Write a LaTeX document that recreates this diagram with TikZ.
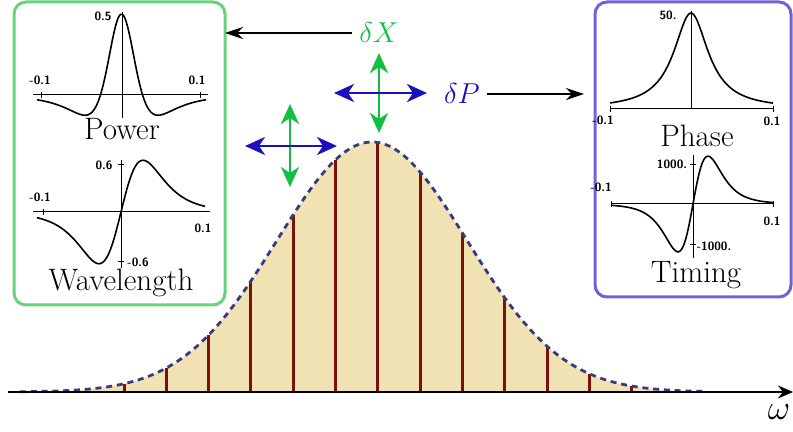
\documentclass[tikz,border=0pt]{standalone}
\usepackage{amsmath, amssymb}
\usetikzlibrary{arrows.meta, positioning, calc}

\definecolor{boxgreen}{HTML}{66D47E}
\definecolor{boxpurple}{HTML}{7262D6}
\definecolor{sandfill}{HTML}{F0E2B2}
\definecolor{curveblue}{HTML}{3A3A80}
\definecolor{combred}{HTML}{7A1010}
\definecolor{arrgreen}{HTML}{10C040}
\definecolor{arrblue}{HTML}{1A10C0}

\begin{document}
\begin{tikzpicture}[x=0.5pt, y=-0.5pt,
    declare function={pw(\t)=(1-3*\t*\t)/(1+\t*\t)^3; wl(\t)=\t/(1+\t*\t)^3;
      ph(\t)=1/(1+\t*\t); gs(\t)=exp(-\t*\t/2);},
    big_label/.style={font=\fontsize{15.5}{18}\selectfont},
    tick_label/.style={font=\fontsize{6}{7}\selectfont\sffamily\bfseries, inner sep=0pt},
    green_box/.style={draw=boxgreen, line width=1.5pt, rounded corners=6pt, inner sep=0pt, outer sep=0pt,
      minimum width=105.5pt, minimum height=151.5pt},
    purple_box/.style={draw=boxpurple, line width=1.5pt, rounded corners=6pt, inner sep=0pt, outer sep=0pt,
      minimum width=98pt, minimum height=147.5pt},
    plot_axis/.style={line width=0.5pt},
    plot_line/.style={line width=0.8pt},
    comb_line/.style={draw=combred, line width=1.5pt},
    env_line/.style={draw=curveblue, line width=1.4pt, dash pattern=on 3pt off 2.4pt},
    black_arrow/.style={-{Stealth[length=9pt, width=6pt]}, line width=1pt},
    move_x/.style={{Stealth[length=10pt, width=9pt, inset=3pt]}-{Stealth[length=10pt, width=9pt, inset=3pt]}, draw=arrgreen, line width=1.4pt},
    move_p/.style={{Stealth[length=10pt, width=9pt, inset=3pt]}-{Stealth[length=10pt, width=9pt, inset=3pt]}, draw=arrblue, line width=1.4pt},
    ]
    \useasboundingbox (0,0) rectangle (793,432);

    % Spectrum
    \fill[sandfill] plot[domain=20:705, samples=140] (\x, {392-250*gs((\x-372)/95)}) -- cycle;
    \foreach \k in {0,...,12} {
      \pgfmathsetmacro\cx{124+42.3*\k}
      \draw[comb_line] (\cx,392) -- (\cx,{392-250*gs((\cx-372)/95)});
    }
    \draw[env_line] plot[domain=20:705, samples=140] (\x, {392-250*gs((\x-372)/95)});
    \draw[-{Stealth[length=7.5pt, width=6.5pt]}, line width=1.2pt] (8,392) -- (793,392);
    \node[font=\fontsize{18}{20}\selectfont, inner sep=1pt] (omega) at (779,412) {$\omega$};

    % Boxes
    \node[green_box] (lbox) at (119.5,153.5) {};
    \node[purple_box] (rbox) at (693,149.5) {};

    % Power
    \draw[plot_axis] (33,95) -- (208,95) (122,12) -- (122,118)
      (41,92) -- (41,98) (200,92) -- (200,98);
    \draw[plot_line] plot[domain=37:206, samples=90, smooth] (\x, {95-81*pw((\x-121.5)/36.5)});
    \node[tick_label] (p1) at (103,16) {0.5};
    \node[tick_label] (p2) at (40,80) {-0.1};
    \node[tick_label] (p3) at (197,80) {0.1};
    \node[big_label, anchor=base] (power) at (122,140) {Power};

    % Wavelength
    \draw[plot_axis] (33,212) -- (210,212) (121,160) -- (121,268)
      (43,209) -- (43,215) (118,165) -- (124,165) (118,262) -- (124,262);
    \draw[plot_line] plot[domain=37:205, samples=90, smooth] (\x, {212-200*wl((\x-121)/49.2)});
    \node[tick_label] (w1) at (104,165) {0.6};
    \node[tick_label] (w2) at (40,197) {-0.1};
    \node[tick_label] (w3) at (203,228) {0.1};
    \node[tick_label] (w4) at (138,262) {-0.6};
    \node[big_label, anchor=base] (wavelength) at (121,291) {Wavelength};

    % Phase
    \draw[plot_axis] (610,109) -- (773,109) (691,11) -- (691,109)
      (610,106) -- (610,112) (773,106) -- (773,112);
    \draw[plot_line] plot[domain=610:773, samples=90, smooth] (\x, {109-96*ph((\x-691)/21)});
    \node[tick_label] (f1) at (668,15) {50.};
    \node[tick_label] (f2) at (603,120) {-0.1};
    \node[tick_label] (f3) at (772,121) {0.1};
    \node[big_label, anchor=base] (phase) at (697,147) {Phase};

    % Timing
    \draw[plot_axis] (611,204) -- (773,204) (693,155) -- (693,258)
      (690,165) -- (696,165) (690,245) -- (696,245) (611,201) -- (611,207) (773,201) -- (773,207);
    \draw[plot_line] plot[domain=612:773, samples=90, smooth] (\x, {204-185*wl((\x-693)/33.5)});
    \node[tick_label] (t1) at (672,164) {1000.};
    \node[tick_label] (t2) at (714,246) {-1000.};
    \node[tick_label] (t3) at (601,187) {-0.1};
    \node[tick_label] (t4) at (772,221) {0.1};
    \node[big_label, anchor=base] (timing) at (696,283) {Timing};

    % Perturbations
    \node[big_label, text=arrgreen] (dx) at (379,33) {$\delta X$};
    \node[big_label, text=arrblue] (dp) at (462,94) {$\delta P$};
    \coordinate (up1) at (379,53);  \coordinate (dn1) at (379,133);
    \coordinate (lf1) at (334,93);  \coordinate (rt1) at (427,93);
    \coordinate (up2) at (290,104); \coordinate (dn2) at (290,187);
    \coordinate (lf2) at (245,146); \coordinate (rt2) at (337,146);
    \draw[move_x] (up1) -- (dn1); \draw[move_p] (lf1) -- (rt1);
    \draw[move_x] (up2) -- (dn2); \draw[move_p] (lf2) -- (rt2);

    % Arrows to boxes
    \draw[black_arrow] (dx.west) -- (dx.west -| lbox.east);
    \draw[black_arrow, shorten >=5.5pt] (dp.east) -- (dp.east -| rbox.west);
\end{tikzpicture}
\end{document}
